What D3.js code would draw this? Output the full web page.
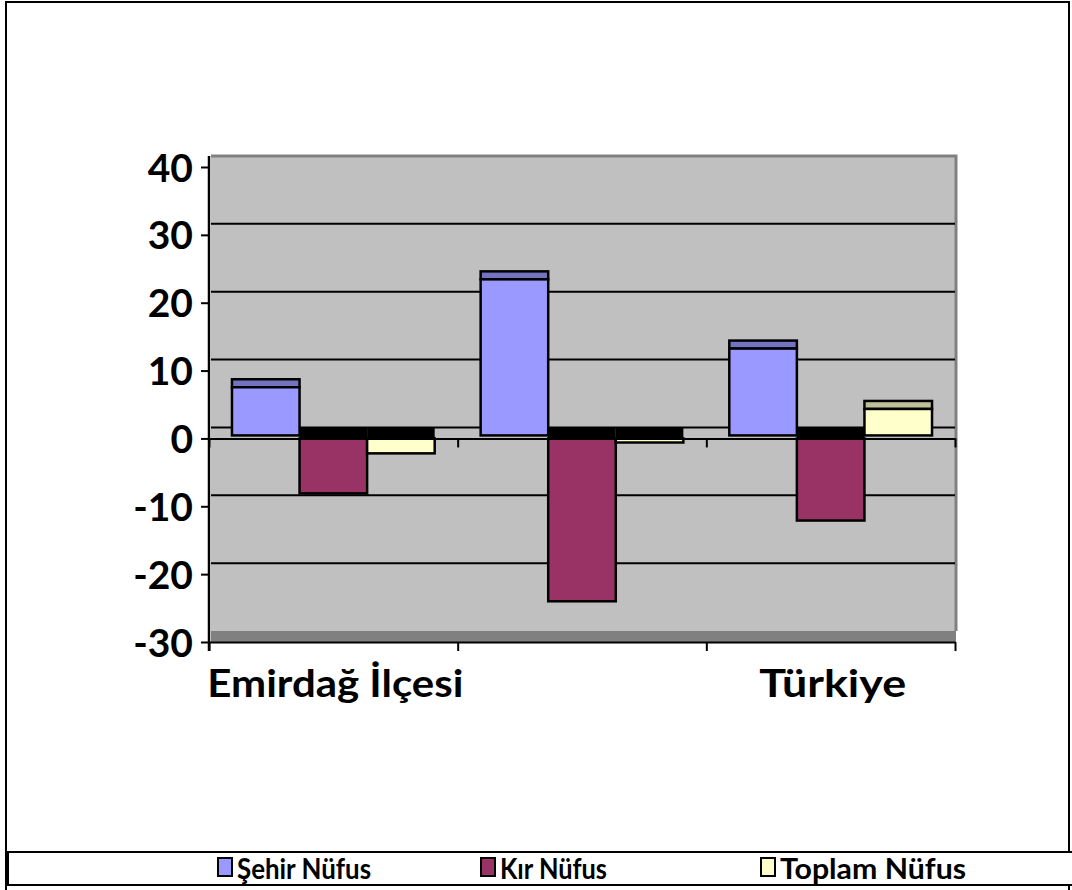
<!DOCTYPE html>
<html>
<head>
<meta charset="utf-8">
<script src="https://cdnjs.cloudflare.com/ajax/libs/d3/7.8.5/d3.min.js"></script>
<style>
  body { margin: 0; background: #fff; }
  svg text { font-family: Lato, 'Open Sans', sans-serif; font-weight: bold; fill: #000; }
</style>
</head>
<body>
<div id="chart"></div>
<script>
// nüfus artış hızları (binde)
const categories = ['Emirdağ İlçesi', 'Afyonkarahisar', 'Türkiye']
const shownLabels = ['Emirdağ İlçesi', '', 'Türkiye']
const labelWidths = [256, 0, 147]
const seriesNames = ['Şehir Nüfus', 'Kır Nüfus', 'Toplam Nüfus']
const sehirNufus = [7.1, 23.0, 12.8]
const kirNufus = [-8.1, -24.0, -12.1]
const toplamNufus = [-2.2, -0.6, 3.9]
const yTicks = [-30, -20, -10, 0, 10, 20, 30, 40]
const seriesColors = ['#9999ff', '#993366', '#ffffcc']
const topColors = ['#7373bf', '#732650', '#bfbf99']
const legendWidths = [134, 107, 186]

const width = 1072,
      height = 890,
      depth = 11

const values = [sehirNufus, kirNufus, toplamNufus]

const svg = d3.select('#chart')
  .append('svg')
  .attr('width', width)
  .attr('height', height)

svg.append('rect')
  .attr('x', 6).attr('y', 2)
  .attr('width', 1063).attr('height', 900)
  .attr('fill', '#fff')
  .attr('stroke', '#000')
  .attr('stroke-width', 2)

const y = d3.scaleLinear()
  .domain([-30, 40])
  .range([642, 167])

const x0 = d3.scaleBand()
  .domain(categories)
  .range([209, 955])

const x1 = d3.scaleBand()
  .domain(seriesNames)
  .range([0, x0.bandwidth()])
  .paddingOuter(0.34)

const xb = d3.scaleLinear()
  .domain([0, categories.length])
  .range([209, 955])

// back wall
const wallLeft = 211, wallRight = 956
svg.append('rect')
  .attr('x', wallLeft)
  .attr('y', y(40) - depth)
  .attr('width', wallRight - wallLeft)
  .attr('height', y(-30) - y(40))
  .attr('fill', '#c0c0c0')

svg.append('path')
  .attr('d', 'M' + wallLeft + ',' + (y(40) - depth) + 'H' + wallRight + 'V' + (y(-30) - depth))
  .attr('fill', 'none')
  .attr('stroke', '#808080')
  .attr('stroke-width', 3)

// grid on the back wall
svg.selectAll('.grid')
  .data(yTicks.filter(function(t) { return t > -30 && t < 40 }))
  .enter().append('line')
  .attr('class', 'grid')
  .attr('x1', wallLeft)
  .attr('x2', wallRight - 1)
  .attr('y1', function(d) { return y(d) - depth })
  .attr('y2', function(d) { return y(d) - depth })
  .attr('stroke', '#000')
  .attr('stroke-width', 2)

// floor
svg.append('rect')
  .attr('x', wallLeft)
  .attr('y', y(-30) - depth)
  .attr('width', wallRight - wallLeft)
  .attr('height', depth)
  .attr('fill', '#808080')

// bars
const bars = []
seriesNames.forEach(function(s, si) {
  categories.forEach(function(c, ci) {
    bars.push({ series: s, si: si, cat: c, value: values[si][ci] })
  })
})

const g = svg.append('g')

bars.forEach(function(d) {
  const bx = x0(d.cat) + x1(d.series)
  const bw = x1.bandwidth()
  if (d.value >= 0) {
    g.append('rect')
      .attr('x', bx).attr('y', y(d.value) - depth)
      .attr('width', bw).attr('height', depth - 3)
      .attr('fill', topColors[d.si])
      .attr('stroke', '#000').attr('stroke-width', 2.5)
    g.append('rect')
      .attr('x', bx).attr('y', y(d.value) - 3)
      .attr('width', bw).attr('height', y(0) - y(d.value))
      .attr('fill', seriesColors[d.si])
      .attr('stroke', '#000').attr('stroke-width', 2.5)
  } else {
    g.append('rect')
      .attr('x', bx).attr('y', y(0) - depth)
      .attr('width', bw).attr('height', depth)
      .attr('fill', '#000')
    g.append('rect')
      .attr('x', bx).attr('y', y(0))
      .attr('width', bw).attr('height', y(d.value) - y(0))
      .attr('fill', seriesColors[d.si])
      .attr('stroke', '#000').attr('stroke-width', 2.5)
  }
})

// category axes (at zero and at the floor front edge)
;[0, -30].forEach(function(v) {
  svg.append('g')
    .attr('transform', 'translate(0,' + y(v) + ')')
    .call(d3.axisBottom(xb)
      .tickValues(d3.range(categories.length + 1))
      .tickSize(9)
      .tickSizeOuter(0)
      .tickFormat(''))
    .call(function(a) {
      a.selectAll('path, line').attr('stroke', '#000').attr('stroke-width', 2)
    })
})

// value axis
const yAxis = svg.append('g')
  .attr('transform', 'translate(209,0)')
  .call(d3.axisLeft(y)
    .tickValues(yTicks)
    .tickSize(8)
    .tickPadding(8)
    .tickSizeOuter(0)
    .tickFormat(function(d) { return String(d) }))

yAxis.select('.domain').remove()
yAxis.selectAll('line').attr('stroke', '#000').attr('stroke-width', 2)
yAxis.selectAll('text')
  .attr('dy', '0.36em')
  .style('font-size', '39px')

yAxis.append('line')
  .attr('y1', y(40) - depth)
  .attr('y2', y(-30) + 9)
  .attr('stroke', '#000')
  .attr('stroke-width', 2.5)

// category labels
svg.selectAll('.xlabel')
  .data(categories)
  .enter().append('text')
  .attr('class', 'xlabel')
  .attr('x', function(d) { return x0(d) + x0.bandwidth() / 2 + 2 })
  .attr('y', 697)
  .attr('text-anchor', 'middle')
  .attr('textLength', function(d, i) { return labelWidths[i] || null })
  .attr('lengthAdjust', 'spacingAndGlyphs')
  .style('font-size', '38px')
  .text(function(d, i) { return shownLabels[i] })

// legend
svg.append('rect')
  .attr('x', 8).attr('y', 852)
  .attr('width', 1070).attr('height', 33)
  .attr('fill', '#fff')
  .attr('stroke', '#000')
  .attr('stroke-width', 2)

const legendX = [218, 481, 761]
const legend = svg.selectAll('.legend')
  .data(seriesNames)
  .enter().append('g')
  .attr('class', 'legend')
  .attr('transform', function(d, i) { return 'translate(' + legendX[i] + ',0)' })

legend.append('rect')
  .attr('x', 0).attr('y', 858)
  .attr('width', 14).attr('height', 18)
  .attr('fill', function(d, i) { return seriesColors[i] })
  .attr('stroke', '#000')
  .attr('stroke-width', 2)

legend.append('text')
  .attr('x', 19)
  .attr('y', 879)
  .attr('textLength', function(d, i) { return legendWidths[i] })
  .attr('lengthAdjust', 'spacingAndGlyphs')
  .style('font-size', '29px')
  .text(function(d) { return d })
</script>
</body>
</html>
